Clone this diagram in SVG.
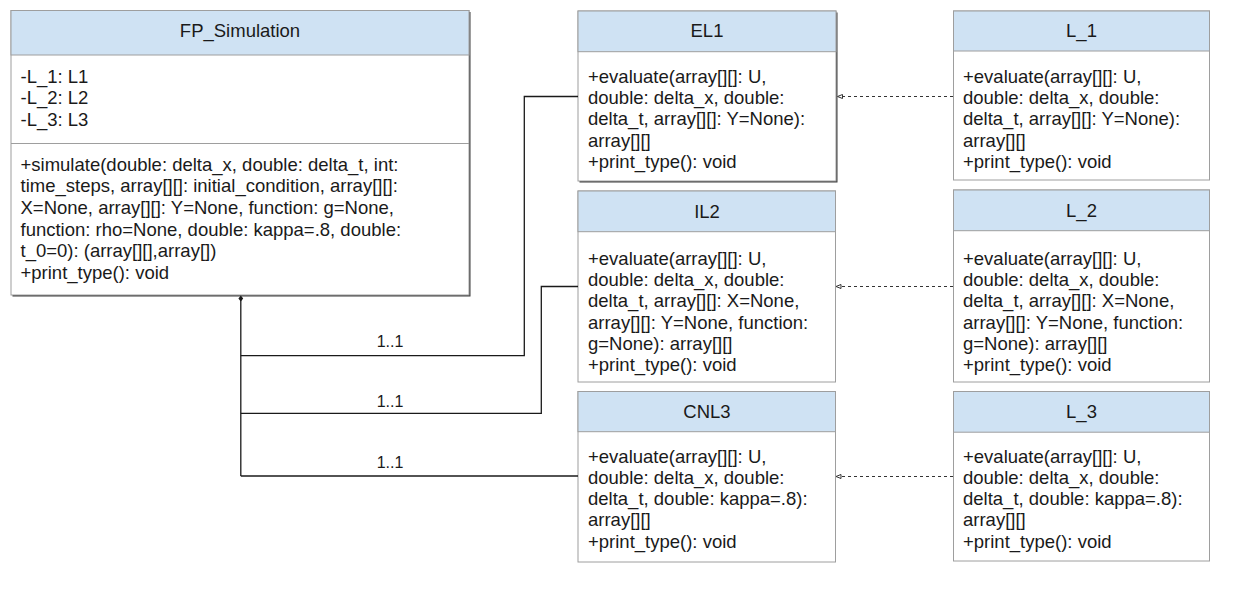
<svg xmlns="http://www.w3.org/2000/svg" width="1242" height="590" viewBox="0 0 1242 590">
  <style>
    .box { fill: #ffffff; stroke: #9e9e9e; stroke-width: 1; }
    .head { fill: #cfe2f3; stroke: #9e9e9e; stroke-width: 1; }
    .sep { stroke: #9e9e9e; stroke-width: 1; }
    .shadow { fill: #3c3c3c; }
    .title { font-family: "Liberation Sans", Arial, sans-serif; font-size: 18.5px; fill: #1a1a1a; text-anchor: middle; }
    .body { font-family: "Liberation Sans", Arial, sans-serif; font-size: 18.5px; fill: #1a1a1a; }
    .mult { font-family: "Liberation Sans", Arial, sans-serif; font-size: 16px; fill: #1a1a1a; text-anchor: middle; }
    .assoc { fill: none; stroke: #1a1a1a; stroke-width: 1.3; }
    .dep { fill: none; stroke: #333333; stroke-width: 1; stroke-dasharray: 3 3; }
    .arrow { fill: #ffffff; stroke: #333333; stroke-width: 1; }
  </style>

  <!-- FP_Simulation class -->
  <g id="FP_Simulation">
    <rect class="shadow" x="12.5" y="12" width="458" height="284.5"/>
    <rect class="box" x="11" y="10.5" width="458" height="284.5"/>
    <rect class="head" x="11" y="10.5" width="458" height="44.5"/>
    <line class="sep" x1="11" y1="143.5" x2="469" y2="143.5"/>
    <text class="title" x="240" y="37.3">FP_Simulation</text>
    <text class="body" x="20.5" y="82.7">
      <tspan x="20.5">-L_1: L1</tspan>
      <tspan x="20.5" dy="21.7">-L_2: L2</tspan>
      <tspan x="20.5" dy="21.7">-L_3: L3</tspan>
    </text>
    <text class="body" x="20.5" y="170.5">
      <tspan x="20.5">+simulate(double: delta_x, double: delta_t, int:</tspan>
      <tspan x="20.5" dy="21.7">time_steps, array[][]: initial_condition, array[][]:</tspan>
      <tspan x="20.5" dy="21.7">X=None, array[][]: Y=None, function: g=None,</tspan>
      <tspan x="20.5" dy="21.7">function: rho=None, double: kappa=.8, double:</tspan>
      <tspan x="20.5" dy="21.7">t_0=0): (array[][],array[])</tspan>
      <tspan x="20.5" dy="21.7">+print_type(): void</tspan>
    </text>
  </g>

  <!-- EL1 class -->
  <g id="EL1">
    <rect class="shadow" x="579.5" y="12.5" width="258" height="170"/>
    <rect class="box" x="578" y="11" width="258" height="170"/>
    <rect class="head" x="578" y="11" width="258" height="40.7"/>
    <text class="title" x="707" y="36.7">EL1</text>
    <text class="body" x="588" y="82.7">
      <tspan x="588">+evaluate(array[][]: U,</tspan>
      <tspan x="588" dy="21.3">double: delta_x, double:</tspan>
      <tspan x="588" dy="21.3">delta_t, array[][]: Y=None):</tspan>
      <tspan x="588" dy="21.3">array[][]</tspan>
      <tspan x="588" dy="21.3">+print_type(): void</tspan>
    </text>
  </g>

  <!-- IL2 class -->
  <g id="IL2">
    <rect class="box" x="578" y="191" width="257.5" height="191"/>
    <rect class="head" x="578" y="191" width="257.5" height="40.7"/>
    <text class="title" x="707" y="218">IL2</text>
    <text class="body" x="588" y="265">
      <tspan x="588">+evaluate(array[][]: U,</tspan>
      <tspan x="588" dy="21.2">double: delta_x, double:</tspan>
      <tspan x="588" dy="21.2">delta_t, array[][]: X=None,</tspan>
      <tspan x="588" dy="21.2">array[][]: Y=None, function:</tspan>
      <tspan x="588" dy="21.2">g=None): array[][]</tspan>
      <tspan x="588" dy="21.2">+print_type(): void</tspan>
    </text>
  </g>

  <!-- CNL3 class -->
  <g id="CNL3">
    <rect class="box" x="578" y="391.5" width="257.5" height="170.5"/>
    <rect class="head" x="578" y="391.5" width="257.5" height="40.2"/>
    <text class="title" x="707" y="418">CNL3</text>
    <text class="body" x="588" y="462.5">
      <tspan x="588">+evaluate(array[][]: U,</tspan>
      <tspan x="588" dy="21.3">double: delta_x, double:</tspan>
      <tspan x="588" dy="21.3">delta_t, double: kappa=.8):</tspan>
      <tspan x="588" dy="21.3">array[][]</tspan>
      <tspan x="588" dy="21.3">+print_type(): void</tspan>
    </text>
  </g>

  <!-- L_1 class -->
  <g id="L_1">
    <rect class="box" x="953.5" y="11" width="256" height="169"/>
    <rect class="head" x="953.5" y="11" width="256" height="40"/>
    <text class="title" x="1081.5" y="36.7">L_1</text>
    <text class="body" x="963" y="82.7">
      <tspan x="963">+evaluate(array[][]: U,</tspan>
      <tspan x="963" dy="21.3">double: delta_x, double:</tspan>
      <tspan x="963" dy="21.3">delta_t, array[][]: Y=None):</tspan>
      <tspan x="963" dy="21.3">array[][]</tspan>
      <tspan x="963" dy="21.3">+print_type(): void</tspan>
    </text>
  </g>

  <!-- L_2 class -->
  <g id="L_2">
    <rect class="box" x="953.5" y="190" width="256" height="192"/>
    <rect class="head" x="953.5" y="190" width="256" height="40.7"/>
    <text class="title" x="1081.5" y="217">L_2</text>
    <text class="body" x="963" y="265">
      <tspan x="963">+evaluate(array[][]: U,</tspan>
      <tspan x="963" dy="21.2">double: delta_x, double:</tspan>
      <tspan x="963" dy="21.2">delta_t, array[][]: X=None,</tspan>
      <tspan x="963" dy="21.2">array[][]: Y=None, function:</tspan>
      <tspan x="963" dy="21.2">g=None): array[][]</tspan>
      <tspan x="963" dy="21.2">+print_type(): void</tspan>
    </text>
  </g>

  <!-- L_3 class -->
  <g id="L_3">
    <rect class="box" x="953.5" y="391.5" width="256" height="169.5"/>
    <rect class="head" x="953.5" y="391.5" width="256" height="40.7"/>
    <text class="title" x="1081.5" y="418">L_3</text>
    <text class="body" x="963" y="462.5">
      <tspan x="963">+evaluate(array[][]: U,</tspan>
      <tspan x="963" dy="21.3">double: delta_x, double:</tspan>
      <tspan x="963" dy="21.3">delta_t, double: kappa=.8):</tspan>
      <tspan x="963" dy="21.3">array[][]</tspan>
      <tspan x="963" dy="21.3">+print_type(): void</tspan>
    </text>
  </g>

  <!-- associations and dependencies -->
  <g id="connectors">
    <!-- composition from FP_Simulation -->
    <polygon points="240.8,295.5 243.2,298.5 240.8,301.5 238.4,298.5" fill="#1a1a1a"/>
    <path class="assoc" d="M240.8,298.5 V476"/>
    <path class="assoc" d="M240.8,355.7 H524.3 V96.5 H578"/>
    <path class="assoc" d="M240.8,413.3 H541.3 V286.5 H578"/>
    <path class="assoc" d="M240.8,476 H578"/>
    <text class="mult" x="390" y="346.5">1..1</text>
    <text class="mult" x="390" y="407">1..1</text>
    <text class="mult" x="390" y="468">1..1</text>

    <!-- realisations: L_n to its scheme -->
    <path class="dep" d="M953,96.5 H842"/>
    <polygon class="arrow" points="837.5,96.5 842.5,94.5 842.5,98.5"/>
    <path class="dep" d="M953,286.5 H841"/>
    <polygon class="arrow" points="836,286.5 841,284.5 841,288.5"/>
    <path class="dep" d="M953,476.5 H841"/>
    <polygon class="arrow" points="836,476.5 841,474.5 841,478.5"/>
  </g>
</svg>
